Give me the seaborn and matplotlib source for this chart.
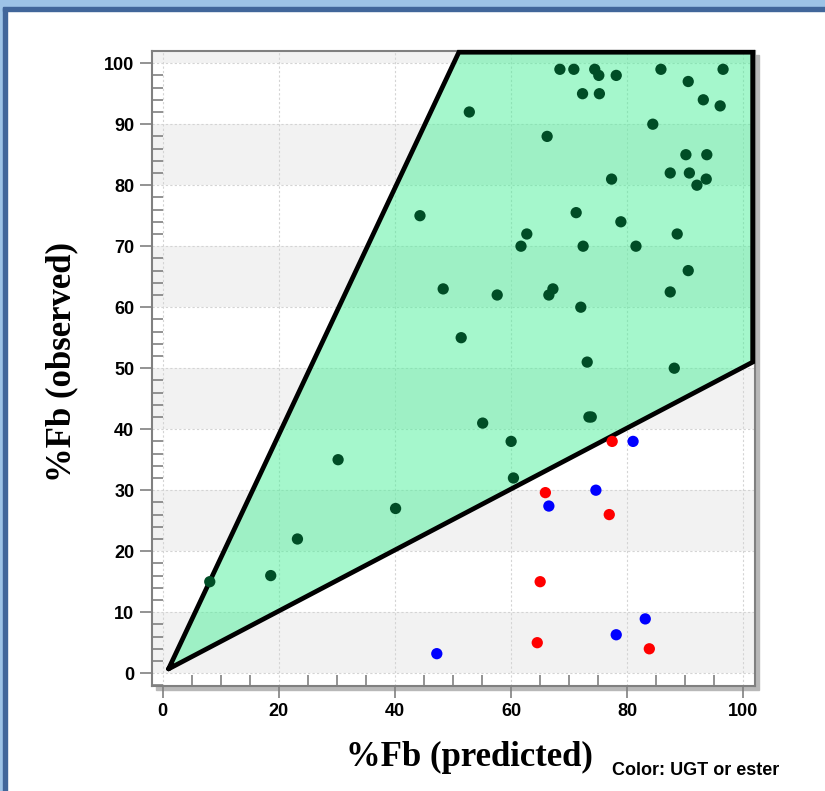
"""
plot.py
Predicted vs observed %Fb scatter with the 2-fold agreement band.
Run: python plot.py  -> out.png
"""

import matplotlib
matplotlib.use("Agg")
import matplotlib.pyplot as plt
import matplotlib.ticker as mticker
from matplotlib.patches import Rectangle
import pandas as pd
import seaborn as sns

# ---- data ----
OTHER_PRED = [8.1, 18.6, 23.2, 30.2, 40.1, 44.3, 48.3, 51.4, 52.8, 55.1,
              57.6, 60.0, 60.4, 61.7, 62.7, 66.2, 66.5, 67.2, 68.4, 70.8,
              71.2, 72.0, 72.3, 72.4, 73.1, 73.4, 73.8, 74.4, 75.1, 75.2,
              77.3, 78.1, 78.9, 81.5, 84.4, 85.8, 87.4, 87.4, 88.1, 88.6,
              90.1, 90.5, 90.5, 90.7, 92.0, 93.1, 93.6, 93.7, 96.0, 96.5]
OTHER_OBS = [15.0, 16.0, 22.0, 35.0, 27.0, 75.0, 63.0, 55.0, 92.0, 41.0,
             62.0, 38.0, 32.0, 70.0, 72.0, 88.0, 62.0, 63.0, 99.0, 99.0,
             75.5, 60.0, 95.0, 70.0, 51.0, 42.0, 42.0, 99.0, 98.0, 95.0,
             81.0, 98.0, 74.0, 70.0, 90.0, 99.0, 62.5, 82.0, 50.0, 72.0,
             85.0, 97.0, 66.0, 82.0, 80.0, 94.0, 81.0, 85.0, 93.0, 99.0]

UGT_PRED = [77.4, 65.9, 76.9, 65.0, 64.5, 83.8]
UGT_OBS  = [38.0, 29.6, 26.0, 15.0, 5.0, 4.0]

ESTER_PRED = [81.0, 74.6, 66.5, 83.1, 78.1, 47.2]
ESTER_OBS  = [38.0, 30.0, 27.4, 8.9, 6.3, 3.2]

# 2-fold band outline (observed between predicted/2 and 2*predicted)
FOLD_X = [1.0, 51.0, 101.6, 101.6, 1.0]
FOLD_Y = [0.7, 101.8, 101.8, 51.0, 0.7]

X_TICKS = [0, 20, 40, 60, 80, 100]
Y_TICKS = [0, 10, 20, 30, 40, 50, 60, 70, 80, 90, 100]

PALETTE = {"other": "#004d26", "UGT": "#ff0000", "ester": "#0000ff"}

df = pd.DataFrame({
    "pred":  OTHER_PRED + UGT_PRED + ESTER_PRED,
    "obs":   OTHER_OBS + UGT_OBS + ESTER_OBS,
    "group": ["other"] * len(OTHER_PRED) + ["UGT"] * len(UGT_PRED)
             + ["ester"] * len(ESTER_PRED),
})

sns.set_style("white")
plt.rcParams["font.family"] = ["Liberation Sans", "DejaVu Sans"]
plt.rcParams["font.weight"] = "bold"
plt.rcParams["text.color"] = "black"
plt.rcParams["xtick.color"] = "#808080"
plt.rcParams["ytick.color"] = "#808080"
plt.rcParams["xtick.labelcolor"] = "black"
plt.rcParams["ytick.labelcolor"] = "black"

W, H = 825, 791
fig = plt.figure(figsize=(W / 100, H / 100), dpi=100)

# window-style frame
fig.patches.append(Rectangle((0, 1 - 8 / H), 1, 8 / H, transform=fig.transFigure,
                             color="#9dc3e6", zorder=-2))
fig.patches.append(Rectangle((0, 0), 3 / W, 1, transform=fig.transFigure,
                             color="#9dc3e6", zorder=-2))
fig.patches.append(Rectangle((3 / W, 1 - 11 / H), 1, 3.5 / H, transform=fig.transFigure,
                             color="#41669a", zorder=-1))
fig.patches.append(Rectangle((3 / W, 0), 4 / W, 1 - 8 / H, transform=fig.transFigure,
                             color="#41669a", zorder=-1))

# plot area + drop shadow
ax_l, ax_r, ax_t, ax_b = 151.7, 755.0, 51.0, 686.0
fig.patches.append(Rectangle(((ax_l + 4) / W, 1 - (ax_b + 4) / H),
                             (ax_r - ax_l) / W, (ax_b - ax_t) / H,
                             transform=fig.transFigure, color="#b8b8b8", zorder=-1))
ax = fig.add_axes([ax_l / W, 1 - ax_b / H, (ax_r - ax_l) / W, (ax_b - ax_t) / H])
ax.set_facecolor("white")
ax.set_xlim(-1.9, 102.0)
ax.set_ylim(-2.1, 102.0)

for y0 in Y_TICKS[::2]:
    ax.axhspan(y0, y0 + 10, color="#f2f2f2", zorder=0, lw=0)

ax.fill(FOLD_X, FOLD_Y, color="#4cf09a", alpha=0.5, lw=0, zorder=1)
ax.plot(FOLD_X, FOLD_Y, color="black", lw=3.4, zorder=2.7, clip_on=False,
        solid_joinstyle="miter")

sns.scatterplot(data=df, x="pred", y="obs", hue="group", palette=PALETTE,
                s=66, edgecolor="none", legend=False, ax=ax, zorder=3)

# ticks and grid
ax.set_xticks(X_TICKS)
ax.set_yticks(Y_TICKS)
ax.xaxis.set_minor_locator(mticker.MultipleLocator(5))
ax.yaxis.set_minor_locator(mticker.MultipleLocator(2))
ax.tick_params(which="major", direction="out", length=8.5, width=1.2,
               labelsize=13, pad=4)
ax.tick_params(which="minor", direction="in", length=8, width=1.2)
ax.tick_params(which="both", bottom=True, left=True, top=False, right=False)
ax.grid(True, which="major", color="#d4d4d4", lw=0.8, ls=(0, (2, 2)))
ax.set_axisbelow(True)
for sp in ax.spines.values():
    sp.set_color("#808080")
    sp.set_linewidth(1.5)

ax.set_xlabel("")
ax.set_ylabel("")
serif = ["Liberation Serif", "DejaVu Serif"]
fig.text(469 / W, 1 - 766 / H, "%Fb (predicted)", family=serif, fontsize=25,
         fontweight="bold", ha="center", va="baseline")
fig.text(62 / W, 1 - 362 / H, "%Fb (observed)", family=serif, fontsize=25,
         fontweight="bold", ha="center", va="center", rotation=90)
fig.text(612 / W, 1 - 775 / H, "Color: UGT or ester", fontsize=13,
         fontweight="bold", ha="left", va="baseline")

fig.savefig("out.png", dpi=100)
